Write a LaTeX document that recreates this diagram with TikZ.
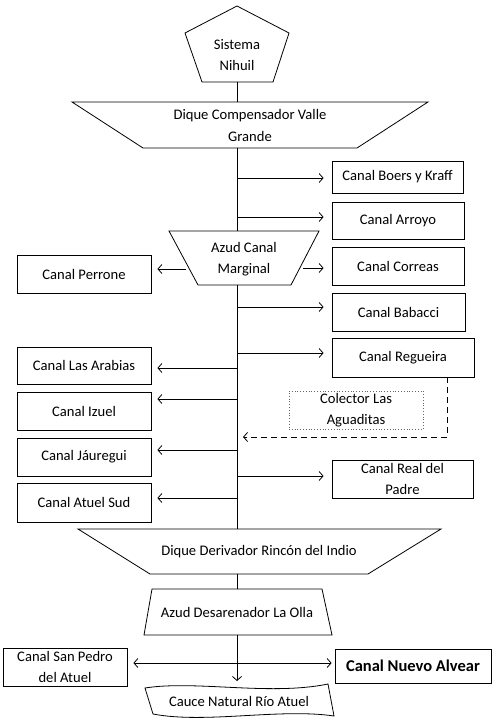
\documentclass[tikz,border=0pt]{standalone}
\usepackage{fontspec}
\setmainfont{Carlito}
\usetikzlibrary{arrows.meta,calc}
\begin{document}
\begin{tikzpicture}[x=1pt,y=-1pt,
  every node/.style={font=\fontsize{14.6}{21.5}\selectfont, inner sep=0pt, align=center},
  ln/.style={line width=0.8pt},
  box/.style={draw, line width=0.8pt, rectangle},
  tip/.tip={Straight Barb[length=4pt,width=9pt]},
  arr/.style={ln, -tip},
]
\useasboundingbox (0,0) rectangle (492,719);

% Sistema Nihuil
\draw[ln] (237,6) -- (289,33) -- (273,82) -- (202,82) -- (185,33) -- cycle;
\node (nihuil) at (237,55) {Sistema\\Nihuil};
\coordinate (penB) at (237,82);

% Dique Compensador Valle Grande
\draw[ln] (72,102) -- (428,102) -- (357,148) -- (143,148) -- cycle;
\node (dcvg) at (250,125.5) {Dique Compensador Valle\\Grande};
\coordinate (dcvgT) at (237,102);
\coordinate (dcvgB) at (237,148);

% Azud Canal Marginal
\draw[ln] (169,231) -- (319,231) -- (291,285) -- (198,285) -- cycle;
\node (acm) at (244,259) {Azud Canal\\Marginal};
\coordinate (acmT) at (237,231);
\coordinate (acmB) at (237,285);

% Dique Derivador
\draw[ln] (78,529) -- (441,529) -- (368,574) -- (150,574) -- cycle;
\node (dri) at (259,552) {Dique Derivador Rinc\'on del Indio};
\coordinate (driT) at (237,529);
\coordinate (driB) at (237,574);

% Azud Desarenador
\draw[ln] (152,589) -- (322,589) -- (332,635) -- (144,635) -- cycle;
\node (ado) at (237,612) {Azud Desarenador La Olla};
\coordinate (adoT) at (237,589);
\coordinate (adoB) at (237,635);

% Cauce
\draw[ln] (145,688) .. controls (195,680) and (270,696) .. (328,684) -- (334,716) .. controls (280,708) and (205,724) .. (153,714) -- cycle;
\node (cauce) at (239,701) {Cauce Natural R\'io Atuel};
\coordinate (cauceT) at (237,687);

% trunk
\draw[ln] (penB) -- (dcvgT);
\draw[ln] (dcvgB) -- (acmT);
\draw[ln] (acmB) -- (driT);
\draw[ln] (driB) -- (adoT);
\draw[arr, shorten >=6pt] (adoB) -- (cauceT);

% right boxes
\node[box, minimum width=131pt, minimum height=32pt] (boers) at (397.5,177) {Canal Boers y Kraff};
\node[box, minimum width=132pt, minimum height=37pt] (arroyo) at (398,220.5) {Canal Arroyo};
\node[box, minimum width=132pt, minimum height=38pt] (correas) at (398,266) {Canal Correas};
\node[box, minimum width=133pt, minimum height=38pt] (babacci) at (398.5,312) {Canal Babacci};
\node[box, minimum width=142pt, minimum height=39pt] (regueira) at (403,357.5) {Canal Regueira};
\node[box, minimum width=141pt, minimum height=38pt] (padre) at (402.5,479) {Canal Real del\\Padre};

\coordinate (r1) at (237,178);
\coordinate (r2) at (237,217);
\coordinate (r3) at (303,268);
\coordinate (r4) at (237,307);
\coordinate (r5) at (237,353);
\coordinate (r6) at (237,476);
\draw[arr, shorten >=8pt] (r1) -- (r1 -| boers.west);
\draw[arr, shorten >=8pt] (r2) -- (r2 -| arroyo.west);
\draw[arr, shorten >=8pt] (r3) -- (r3 -| correas.west);
\draw[arr, shorten >=8pt] (r4) -- (r4 -| babacci.west);
\draw[arr, shorten >=8pt] (r5) -- (r5 -| regueira.west);
\draw[arr, shorten >=8pt] (r6) -- (r6 -| padre.west);

% left boxes
\node[box, minimum width=134pt, minimum height=38pt] (perrone) at (84,274) {Canal Perrone};
\node[box, minimum width=134pt, minimum height=37pt] (arabias) at (84,365.5) {Canal Las Arabias};
\node[box, minimum width=134pt, minimum height=38pt] (izuel) at (84,411) {Canal Izuel};
\node[box, minimum width=134pt, minimum height=38pt] (jauregui) at (84,457) {Canal J\'auregui};
\node[box, minimum width=134pt, minimum height=39pt] (atuelsud) at (84,502.5) {Canal Atuel Sud};

\coordinate (l1) at (186,269);
\coordinate (l2) at (237,368);
\coordinate (l3) at (237,399);
\coordinate (l4) at (237,450);
\coordinate (l5) at (237,498);
\draw[arr, shorten >=6pt] (l1) -- (l1 -| perrone.east);
\draw[arr, shorten >=6pt] (l2) -- (l2 -| arabias.east);
\draw[arr, shorten >=6pt] (l3) -- (l3 -| izuel.east);
\draw[arr, shorten >=6pt] (l4) -- (l4 -| jauregui.east);
\draw[arr, shorten >=6pt] (l5) -- (l5 -| atuelsud.east);

% Colector
\node[draw=black!60, dotted, line width=0.8pt, minimum width=134pt, minimum height=38pt] (colector) at (356,410) {Colector Las\\Aguaditas};
\coordinate (dq) at (447,437);
\coordinate (tq) at (237,437);
\draw[ln, dash pattern=on 6pt off 4pt, -tip, shorten >=6pt] (regueira.south -| dq) -- (dq) -- (tq);

% bottom
\node[box, minimum width=124pt, minimum height=38pt] (sanpedro) at (65,667) {Canal San Pedro\\del Atuel};
\node[box, minimum width=156pt, minimum height=34pt, font=\fontsize{16.5}{20}\selectfont\bfseries] (nuevo) at (413,666) {Canal Nuevo Alvear};
\coordinate (da) at (237,663);
\draw[ln, tip-tip, shorten <=6pt, shorten >=3pt] (sanpedro.east |- da) -- (nuevo.west |- da);
\end{tikzpicture}
\end{document}
